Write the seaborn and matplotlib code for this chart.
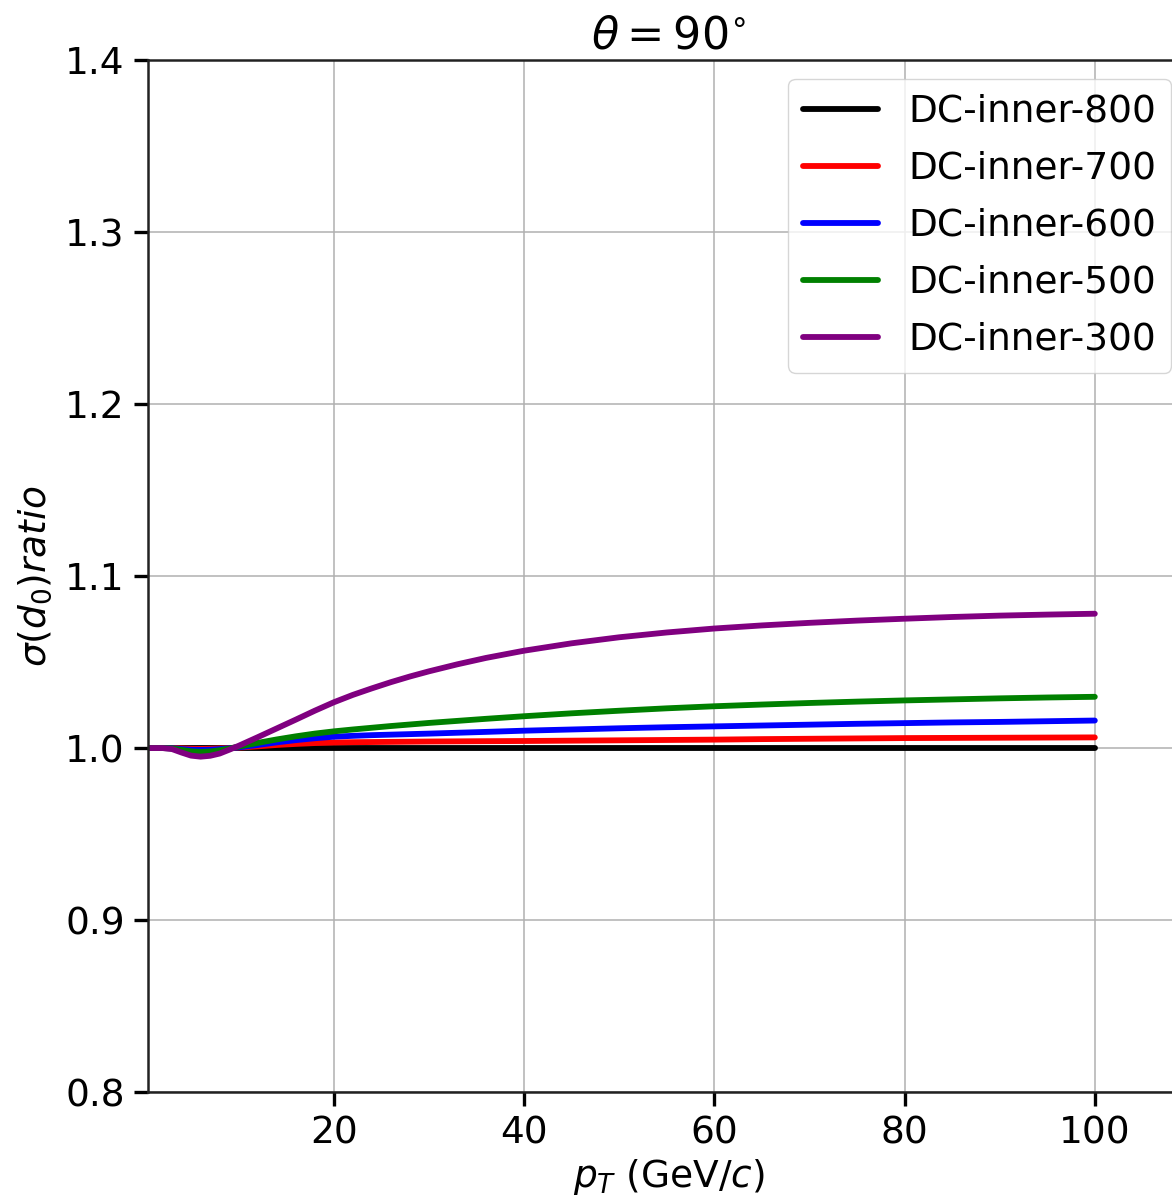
import numpy as np
import pandas as pd
import matplotlib
matplotlib.use("Agg")
import matplotlib.pyplot as plt
import seaborn as sns

# transverse momentum sample points (GeV/c)
pt = [0.5, 1, 2, 3, 4, 5, 6, 7, 8, 9,
      10, 11, 12, 14, 16, 18, 20, 22, 24, 26,
      28, 30, 33, 36, 40, 45, 50, 55, 60, 65,
      70, 75, 80, 85, 90, 95, 100]

# sigma(d0) ratio relative to DC-inner-800
ratio_800 = [1.0] * len(pt)
ratio_700 = [1.0, 1.0, 1.0, 1.0, 0.9998, 0.9996, 0.9995, 0.9996, 0.9998, 1.0,
             1.0003, 1.0006, 1.0010, 1.0018, 1.0024, 1.0029, 1.0032, 1.0034, 1.0035, 1.0036,
             1.0037, 1.0038, 1.0039, 1.0040, 1.0041, 1.0043, 1.0045, 1.0047, 1.0049, 1.0052,
             1.0054, 1.0056, 1.0058, 1.0059, 1.0060, 1.0061, 1.0062]
ratio_600 = [1.0, 1.0, 1.0, 0.9999, 0.9994, 0.9990, 0.9989, 0.9990, 0.9994, 0.9999,
             1.0004, 1.0011, 1.0018, 1.0033, 1.0046, 1.0057, 1.0066, 1.0071, 1.0075, 1.0078,
             1.0081, 1.0084, 1.0089, 1.0094, 1.0101, 1.0108, 1.0115, 1.0121, 1.0126, 1.0131,
             1.0136, 1.0141, 1.0145, 1.0149, 1.0152, 1.0156, 1.0160]
ratio_500 = [1.0, 1.0, 1.0, 0.9998, 0.9989, 0.9981, 0.9978, 0.9980, 0.9987, 0.9997,
             1.0008, 1.0019, 1.0030, 1.0050, 1.0068, 1.0084, 1.0097, 1.0108, 1.0118, 1.0128,
             1.0137, 1.0146, 1.0158, 1.0170, 1.0185, 1.0202, 1.0217, 1.0231, 1.0243, 1.0253,
             1.0262, 1.0270, 1.0277, 1.0283, 1.0289, 1.0294, 1.0298]
ratio_300 = [1.0, 1.0, 1.0, 0.9994, 0.9974, 0.9956, 0.9950, 0.9955, 0.9968, 0.9990,
             1.0013, 1.0038, 1.0063, 1.0114, 1.0165, 1.0217, 1.0266, 1.0309, 1.0347, 1.0383,
             1.0416, 1.0446, 1.0487, 1.0524, 1.0566, 1.0609, 1.0644, 1.0672, 1.0695, 1.0713,
             1.0728, 1.0741, 1.0752, 1.0762, 1.0770, 1.0776, 1.0781]

labels = ["DC-inner-800", "DC-inner-700", "DC-inner-600", "DC-inner-500",
          "DC-inner-300"]
colors = ["black", "red", "blue", "green", "purple"]
y_ticks = [0.8, 0.9, 1.0, 1.1, 1.2, 1.3, 1.4]
x_ticks = [20, 40, 60, 80, 100]

series = [ratio_800, ratio_700, ratio_600, ratio_500, ratio_300]
df = pd.concat(
    [pd.DataFrame({"pt": pt, "ratio": vals, "geometry": lab})
     for vals, lab in zip(series, labels)],
    ignore_index=True,
)

sns.set_theme(style="ticks")
plt.rcParams["font.family"] = ["DejaVu Sans"]
plt.rcParams["mathtext.fontset"] = "dejavusans"
plt.rcParams["text.color"] = "black"

fig = plt.figure(figsize=(11.72, 11.99), dpi=100)
ax = fig.add_axes([0.1265, 0.0892, 0.8888, 0.8607])

sns.lineplot(data=df, x="pt", y="ratio", hue="geometry", hue_order=labels,
             palette=dict(zip(labels, colors)), linewidth=4.2, ax=ax,
             estimator=None, sort=True)

ax.set_xlim(0.5, 110)
ax.set_ylim(0.8, 1.4)
ax.set_xticks(x_ticks)
ax.set_yticks(y_ticks)
ax.set_yticklabels([f"{v:.1f}" for v in y_ticks])
ax.grid(True, color="#b0b0b0", linewidth=1.1)
ax.set_axisbelow(True)

for side in ["left", "bottom", "top", "right"]:
    ax.spines[side].set_color("#222222")
    ax.spines[side].set_linewidth(1.8)

ax.tick_params(axis="both", which="major", direction="out", length=10,
               width=2.4, labelsize=27, color="black", labelcolor="black",
               pad=7)

ax.set_xlabel(r"$p_T$ (GeV/$c$)", fontsize=27, labelpad=4, color="black")
ax.set_ylabel(r"$\sigma(d_0) ratio$", fontsize=27, labelpad=8, color="black")
ax.set_title(r"$\theta = 90^{\circ}$", fontsize=32, pad=8, color="black")

leg = ax.legend(loc="upper right", fontsize=27, frameon=True, fancybox=True,
                framealpha=0.8, edgecolor="#cccccc", borderaxespad=0.5,
                labelspacing=0.56)
for text in leg.get_texts():
    text.set_color("black")
for line in leg.get_lines():
    line.set_linewidth(4.2)

fig.savefig("out.png", dpi=100)
